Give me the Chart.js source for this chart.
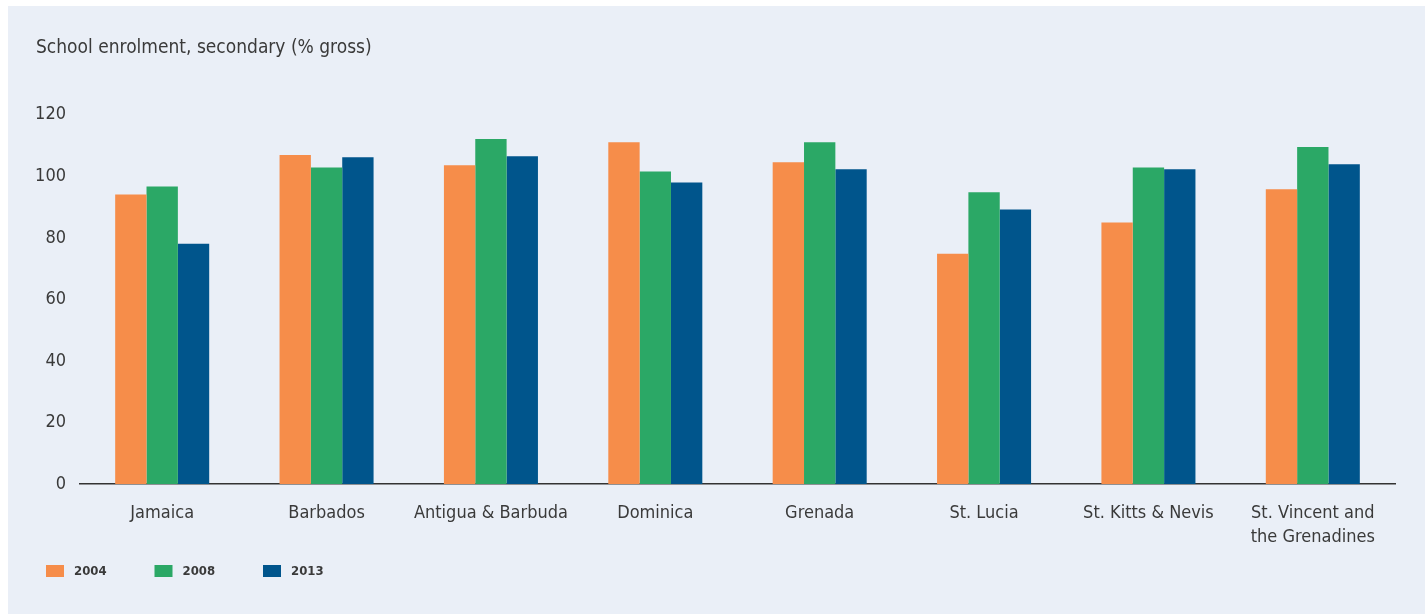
<!DOCTYPE html>
<html>
<head>
<meta charset="utf-8">
<script src="https://cdn.jsdelivr.net/npm/chart.js@4/dist/chart.umd.min.js"></script>
<style>
    html, body { margin: 0; padding: 0; background: #fff; }
    #wrap { position: absolute; left: 8px; top: 6px; width: 1417px; height: 608px; background: #eaeff7; }
</style>
</head>
<body>
<div id="wrap"><canvas id="chart"></canvas></div>
<script>
const countries = ['Jamaica', 'Barbados', 'Antigua & Barbuda', 'Dominica', 'Grenada', 'St. Lucia', 'St. Kitts & Nevis', ['St. Vincent and', 'the Grenadines']];
const years = ['2004', '2008', '2013'];
const values2004 = [94.1, 106.9, 103.6, 111.1, 104.6, 74.8, 85.0, 95.8];
const values2008 = [96.7, 102.9, 112.1, 101.6, 111.1, 94.8, 102.9, 109.5];
const values2013 = [78.1, 106.2, 106.5, 98.0, 102.3, 89.2, 102.3, 103.9];
const yTicks = [0, 20, 40, 60, 80, 100, 120];

const colors = ['#f68d4a', '#2ba866', '#00558c'];
const fontFamily = "'DejaVu Sans Condensed', 'Liberation Sans Narrow', sans-serif";
const textColor = '#3a3a3a';

// simple legend at fixed spacing, like the printed chart
const legendPlugin = {
    id: 'flatLegend',
    afterDraw(chart) {
        const ctx = chart.ctx;
        ctx.save();
        ctx.font = 'bold 13px ' + fontFamily;
        ctx.textBaseline = 'middle';
        chart.data.datasets.forEach((ds, i) => {
            const x = 38 + i * 108.5;
            ctx.fillStyle = ds.backgroundColor;
            ctx.fillRect(x, 559, 18, 12);
            ctx.fillStyle = textColor;
            ctx.fillText(ds.label, x + 28, 566);
        });
        ctx.restore();
    }
};

function main() {
    const context = document.getElementById('chart').getContext('2d');
    const series = [values2004, values2008, values2013];
    new Chart(context, {
        type: 'bar',
        data: {
            labels: countries,
            datasets: years.map((year, index) => ({
                label: year,
                data: series[index],
                backgroundColor: colors[index],
                borderWidth: 0,
                barPercentage: 1,
                categoryPercentage: 0.572
            }))
        },
        options: {
            responsive: true,
            maintainAspectRatio: false,
            animation: false,
            layout: {
                padding: { left: 28, right: 30, top: 0, bottom: 60 }
            },
            plugins: {
                legend: { display: false },
                tooltip: { enabled: false },
                title: {
                    display: true,
                    text: 'School enrolment, secondary (% gross)',
                    align: 'start',
                    color: textColor,
                    font: { family: fontFamily, size: 19, weight: 'normal' },
                    padding: { top: 31, bottom: 55 }
                }
            },
            scales: {
                x: {
                    grid: { display: false, drawTicks: false },
                    border: { display: true, color: '#333', width: 1.5 },
                    ticks: {
                        color: textColor,
                        padding: 18,
                        maxRotation: 0,
                        autoSkip: false,
                        font: { family: fontFamily, size: 18, lineHeight: 1.3 }
                    },
                    afterFit: scale => { scale.height = 70; }
                },
                y: {
                    min: 0,
                    max: 120,
                    grid: { display: false, drawTicks: false },
                    border: { display: false },
                    afterBuildTicks: scale => { scale.ticks = yTicks.map(v => ({ value: v })); },
                    ticks: {
                        color: textColor,
                        padding: 14,
                        font: { family: fontFamily, size: 18 }
                    },
                    afterFit: scale => { scale.width = 44; }
                }
            }
        },
        plugins: [legendPlugin]
    });
}

document.addEventListener('DOMContentLoaded', main);
</script>
</body>
</html>
